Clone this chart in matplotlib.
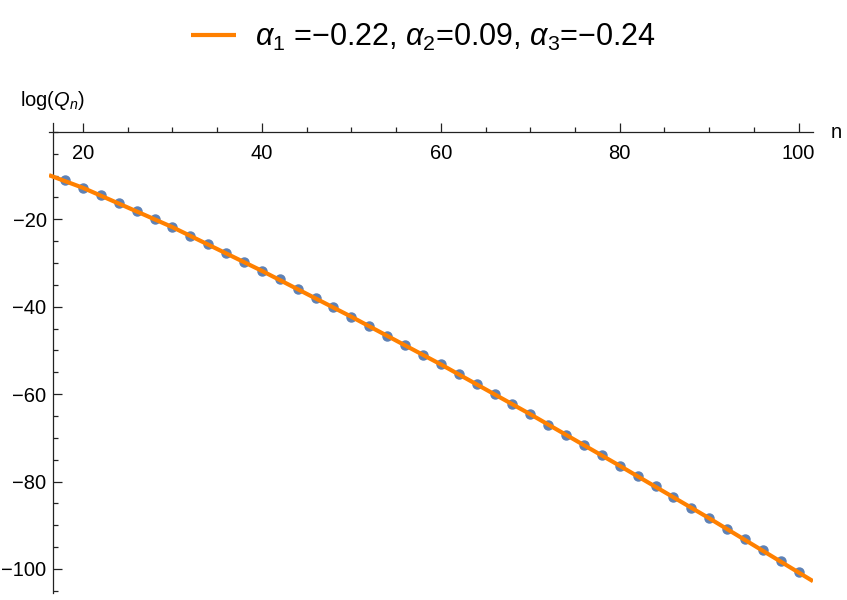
import numpy as np
import matplotlib
matplotlib.use("Agg")
import matplotlib.pyplot as plt
from matplotlib.ticker import MultipleLocator

plt.rcParams['font.family'] = ['Liberation Sans', 'DejaVu Sans']
plt.rcParams['mathtext.fontset'] = 'custom'
plt.rcParams['mathtext.rm'] = 'Liberation Sans'
plt.rcParams['mathtext.it'] = 'Liberation Sans:italic'

# data points log(Q_n), n = 18, 20, ..., 100
n_vals = np.arange(18, 101, 2)
logq = [-11.0, -12.8, -14.4, -16.2, -18.0, -19.9, -21.8, -23.8, -25.7, -27.6,
        -29.7, -31.8, -33.7, -35.9, -38.0, -40.1, -42.3, -44.4, -46.6, -48.8,
        -51.1, -53.2, -55.5, -57.7, -60.0, -62.3, -64.6, -67.0, -69.3, -71.6,
        -74.0, -76.4, -78.7, -81.1, -83.5, -86.0, -88.4, -90.9, -93.2, -95.7,
        -98.1, -100.6]

# fitted curve
fit_n = [16.2, 20, 30, 40, 50, 60, 70, 80, 90, 101.6]
fit_y = [-9.9, -12.8, -21.8, -31.8, -42.3, -53.2, -64.6, -76.4, -88.4, -102.8]

legend_text = r'$\alpha_1$ =−0.22, $\alpha_2$=0.09, $\alpha_3$=−0.24'

fig = plt.figure(figsize=(8.47, 6.0), dpi=100)
ax = fig.add_axes([49 / 847, 1 - 593 / 600, (813 - 49) / 847, (593 - 122.7) / 600])

ax.plot(n_vals, logq, 'o', color='#5E81B5', markersize=6.5, zorder=2)
line, = ax.plot(fit_n, fit_y, color='#FF8000', lw=3, zorder=3, solid_capstyle='butt')

ax.set_xlim(16.2, 101.6)
ax.set_ylim(-105.5, 2.1)

ax.spines['top'].set_visible(False)
ax.spines['right'].set_visible(False)
ax.spines['bottom'].set_position(('data', 0))
ax.spines['left'].set_position(('data', 16.7))
for s in ('bottom', 'left'):
    ax.spines[s].set_linewidth(0.9)
    ax.spines[s].set_color('#222222')

ax.xaxis.set_major_locator(MultipleLocator(20))
ax.xaxis.set_minor_locator(MultipleLocator(5))
ax.yaxis.set_major_locator(MultipleLocator(20))
ax.yaxis.set_minor_locator(MultipleLocator(5))
ax.set_yticks([-20, -40, -60, -80, -100])

ax.tick_params(which='both', direction='in', color='#222222', width=0.9, labelsize=14.5)
ax.tick_params(which='major', length=6.5)
ax.tick_params(which='minor', length=3.8)
ax.tick_params(axis='x', pad=9)
ax.tick_params(axis='y', pad=5)

fig.text(20 / 847, 1 - 100 / 600, r'log($Q_n$)', fontsize=14.5, va='center', ha='left')
fig.text(831 / 847, 1 - 133 / 600, 'n', fontsize=14.5, va='center', ha='left')

fig.legend([line], [legend_text], loc='center', bbox_to_anchor=(0.5, 1 - 37 / 600),
           frameon=False, fontsize=22, handlelength=1.5, handletextpad=0.62)

fig.savefig('out.png', dpi=100)
